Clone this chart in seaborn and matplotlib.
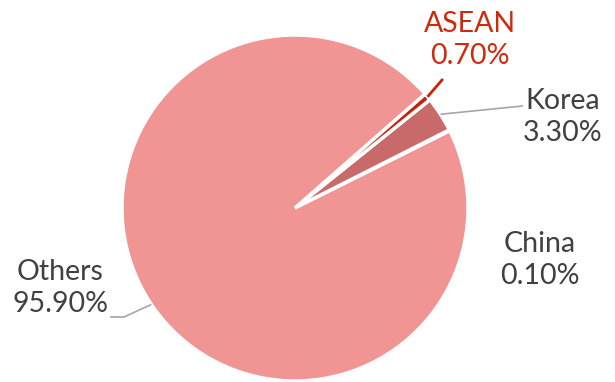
import numpy as np
import matplotlib.pyplot as plt
import seaborn as sns

sns.set_theme(style='white')
plt.rcParams['font.family'] = ['Lato', 'DejaVu Sans']

# data
regions = ['China', 'Korea', 'ASEAN', 'Others']
shares = [0.10, 3.30, 0.70, 95.90]
colors = ['#F19494', '#C86A6A', '#C9220A', '#F19494']
text_colors = ['#404040', '#404040', '#D0290C', '#404040']

# label placement (data units, pie radius = 1)
label_pos = {'China': (1.416, -0.30), 'Korea': (1.549, 0.526),
             'ASEAN': (1.012, 0.971), 'Others': (-1.358, -0.462)}
# leader line end points
leader_end = {'Korea': [(1.318, 0.590)],
              'ASEAN': [(0.855, 0.746)],
              'Others': [(-0.988, -0.630), (-1.069, -0.630)]}

fig = plt.figure(figsize=(6.15, 3.82), dpi=100)
ax = fig.add_axes([0, 0, 1, 1])

wedges, _ = ax.pie(shares, colors=colors, startangle=26.5, counterclock=True,
                   radius=1, wedgeprops=dict(edgecolor='white', linewidth=2.5))

for w, name, val, tc in zip(wedges, regions, shares, text_colors):
    mid = np.deg2rad((w.theta1 + w.theta2) / 2)
    x0, y0 = np.cos(mid), np.sin(mid)
    if name in leader_end:
        pts = [(x0, y0)] + leader_end[name]
        xs, ys = zip(*pts)
        lc = '#C9220A' if name == 'ASEAN' else '#A6A6A6'
        lw = 2 if name == 'ASEAN' else 1.2
        ax.plot(xs, ys, color=lc, lw=lw, solid_capstyle='butt')
    tx, ty = label_pos[name]
    ax.text(tx, ty, f'{name}\n{val:.2f}%', ha='center', va='center',
            fontsize=20.5, color=tc, linespacing=1.3)

ax.set_xlim(-295 / 173, (615 - 295) / 173)
ax.set_ylim(-174 / 173, 208 / 173)
ax.set_aspect('equal')
ax.axis('off')

plt.savefig('out.png', dpi=100)
